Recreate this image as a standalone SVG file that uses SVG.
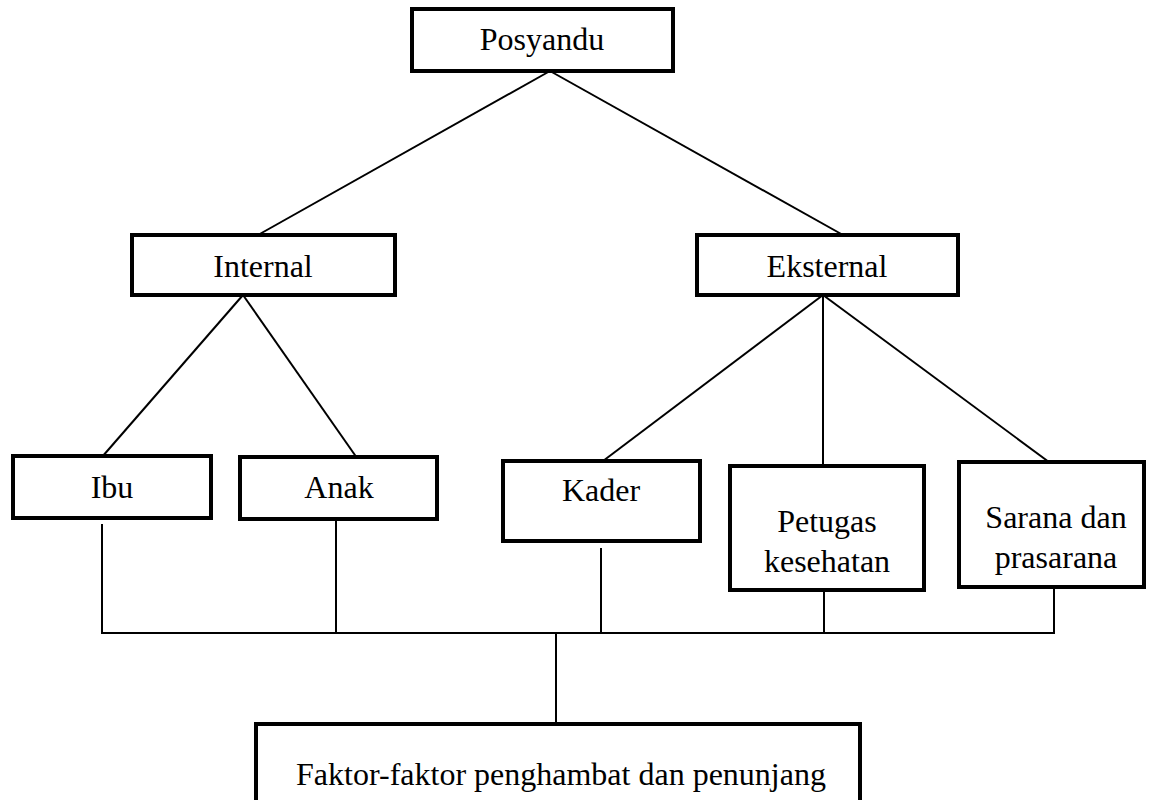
<svg xmlns="http://www.w3.org/2000/svg" width="1158" height="800" viewBox="0 0 1158 800">
<style>
.box{fill:#fff;stroke:#000;stroke-width:4}
.lbl{font-family:"Liberation Serif","Times New Roman",serif;font-size:32px;fill:#000;text-anchor:middle}
.ln{stroke:#000;stroke-width:2;fill:none}
</style>
<rect width="1158" height="800" fill="#fff"/>
<g id="connectors">
<line class="ln" x1="550" y1="71" x2="258" y2="235"/>
<line class="ln" x1="550" y1="71" x2="843" y2="235"/>
<line class="ln" x1="243" y1="295" x2="102" y2="457"/>
<line class="ln" x1="243" y1="295" x2="357" y2="458"/>
<line class="ln" x1="823" y1="295" x2="603" y2="461"/>
<line class="ln" x1="823" y1="295" x2="823" y2="466"/>
<line class="ln" x1="823" y1="295" x2="1053" y2="465"/>
<line class="ln" x1="102" y1="524" x2="102" y2="633"/>
<line class="ln" x1="336" y1="519" x2="336" y2="633"/>
<line class="ln" x1="601" y1="548" x2="601" y2="633"/>
<line class="ln" x1="824" y1="590" x2="824" y2="633"/>
<line class="ln" x1="1054" y1="587" x2="1054" y2="633"/>
<line class="ln" x1="101" y1="633" x2="1055" y2="633"/>
<line class="ln" x1="556" y1="633" x2="556" y2="724"/>
</g>
<g id="posyandu"><rect class="box" x="412" y="9" width="261" height="62"/><text class="lbl" x="542" y="50">Posyandu</text></g>
<g id="internal"><rect class="box" x="132" y="235" width="263" height="60"/><text class="lbl" x="263" y="277">Internal</text></g>
<g id="eksternal"><rect class="box" x="697" y="235" width="261" height="60"/><text class="lbl" x="827" y="277">Eksternal</text></g>
<g id="ibu"><rect class="box" x="13" y="456" width="198" height="62"/><text class="lbl" x="112" y="498">Ibu</text></g>
<g id="anak"><rect class="box" x="240" y="457" width="197" height="62"/><text class="lbl" x="339" y="498">Anak</text></g>
<g id="kader"><rect class="box" x="503" y="461" width="197" height="80"/><text class="lbl" x="601" y="501">Kader</text></g>
<g id="petugas"><rect class="box" x="730" y="466" width="194" height="124"/><text class="lbl" x="827" y="532">Petugas</text><text class="lbl" x="827" y="572">kesehatan</text></g>
<g id="sarana"><rect class="box" x="959" y="462" width="185" height="125"/><text class="lbl" x="1056" y="528">Sarana dan</text><text class="lbl" x="1056" y="568">prasarana</text></g>
<g id="faktor"><rect class="box" x="256" y="724" width="604" height="90"/><text class="lbl" x="561" y="785">Faktor-faktor penghambat dan penunjang</text></g>
</svg>
